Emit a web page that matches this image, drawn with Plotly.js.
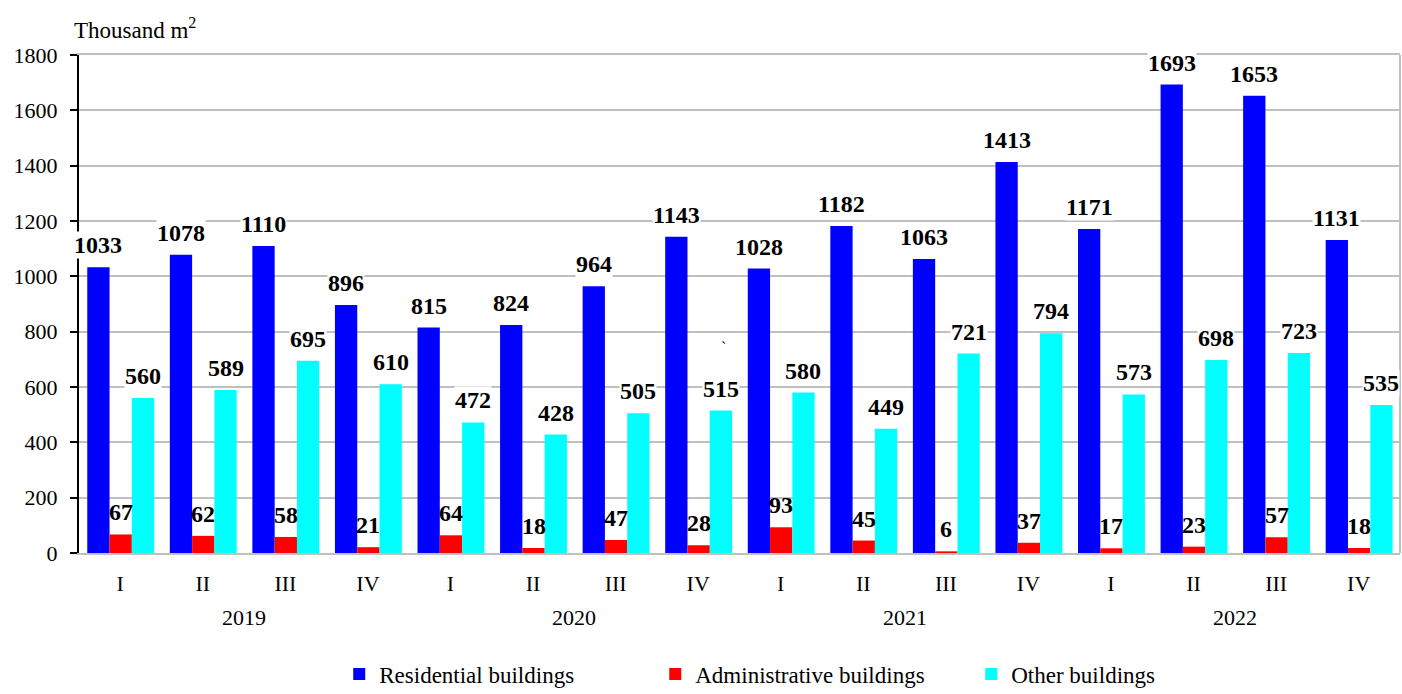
<!DOCTYPE html>
<html><head><meta charset="utf-8">
<script src="https://cdn.plot.ly/plotly-3.0.1.min.js"></script>
<style>body{margin:0;background:#fff}#c{width:1402px;height:694px}</style>
</head><body><div id="c"></div>
<script>
const quarters = ["I","II","III","IV","I","II","III","IV","I","II","III","IV","I","II","III","IV"];
const years = ["2019","2020","2021","2022"];
const residential = [1033,1078,1110,896,815,824,964,1143,1028,1182,1063,1413,1171,1693,1653,1131];
const administrative = [67,62,58,21,64,18,47,28,93,45,6,37,17,23,57,18];
const other = [560,589,695,610,472,428,505,515,580,449,721,794,573,698,723,535];
const seriesNames = ["Residential buildings","Administrative buildings","Other buildings"];

const idx = quarters.map((_, i) => i);
const W = 0.27;
const offsets = [-0.4, -0.13, 0.14];
const colors = ["#0000ff", "#ff0000", "#00ffff"];
const series = [residential, administrative, other];
const FONT = "Liberation Serif, Times New Roman, serif";

const traces = series.map((vals, s) => ({
  type: "bar", x: idx, y: vals, name: seriesNames[s],
  width: W, offset: offsets[s],
  marker: {color: colors[s], line: {width: 0}},
  hoverinfo: "y"
}));

const annotations = [];
series.forEach((vals, s) => {
  vals.forEach((v, i) => {
    annotations.push({
      xref: "x", yref: "y", x: i + offsets[s] + W / 2, y: v,
      text: "<b>" + v + "</b>", showarrow: false,
      yanchor: "bottom", yshift: 8,
      bgcolor: s === 1 ? "rgba(0,0,0,0)" : "#ffffff", borderpad: 0,
      font: {family: FONT, size: 24, color: "#000"}
    });
  });
});
years.forEach((yr, k) => {
  annotations.push({
    xref: "x", yref: "paper", x: k * 4 + 1.5, y: -0.13, yanchor: "middle",
    text: yr, showarrow: false,
    font: {family: FONT, size: 22, color: "#000"}
  });
});
annotations.push({
  xref: "paper", yref: "paper", x: -0.0053, y: 1.054, xanchor: "left", yanchor: "middle",
  text: "Thousand m<sup>2</sup>", showarrow: false,
  font: {family: FONT, size: 23, color: "#000"}
});
annotations.push({
  xref: "x", yref: "y", x: 7.31, y: 741, text: "`", showarrow: false,
  font: {family: FONT, size: 16, color: "#000"}
});

const layout = {
  width: 1402, height: 694,
  margin: {l: 79, r: 2, t: 55, b: 141, autoexpand: false},
  paper_bgcolor: "#fff", plot_bgcolor: "#fff",
  barmode: "group",
  font: {family: FONT, size: 22, color: "#000"},
  xaxis: {
    range: [-0.5, 15.5], tickmode: "array", tickvals: idx, ticktext: quarters,
    showgrid: false, zeroline: false,
    showline: true, linecolor: "#c0c0c0", linewidth: 2, mirror: true,
    ticks: "outside", ticklen: 10, tickcolor: "rgba(0,0,0,0)",
    tickfont: {family: FONT, size: 22, color: "#000"}
  },
  yaxis: {
    range: [0, 1800], dtick: 200, tick0: 0,
    showgrid: true, gridcolor: "#c0c0c0", gridwidth: 2, zeroline: false,
    showline: true, linecolor: "#000", linewidth: 2,
    ticks: "outside", ticklen: 7, tickwidth: 2, tickcolor: "#000",
    ticklabelstandoff: 8,
    tickfont: {family: FONT, size: 22, color: "#000"}
  },
  shapes: [
    {type: "line", xref: "paper", yref: "paper", x0: 1, x1: 1, y0: 0, y1: 1,
     line: {color: "#c0c0c0", width: 2}}
  ],
  showlegend: true,
  legend: {
    orientation: "h", x: 0.197, xanchor: "left", y: -0.243, yanchor: "middle",
    entrywidth: 271, itemwidth: 30,
    font: {family: FONT, size: 23, color: "#000"}
  },
  annotations: annotations
};

Plotly.newPlot("c", traces, layout, {displayModeBar: false, staticPlot: true});
</script></body></html>
